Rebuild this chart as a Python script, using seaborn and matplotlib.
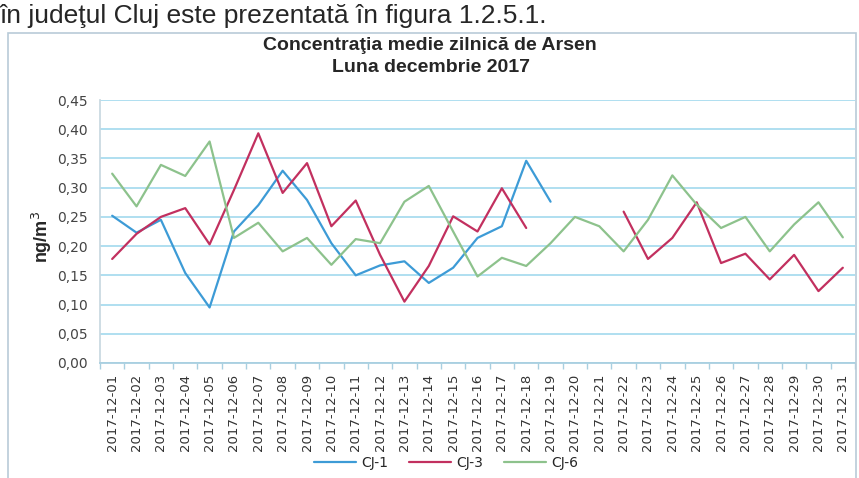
import numpy as np
import pandas as pd
import matplotlib.pyplot as plt
import seaborn as sns
from matplotlib.patches import Rectangle
from matplotlib.ticker import FuncFormatter

nan = np.nan

days = [f"2017-12-{d:02d}" for d in range(1, 32)]
stations = ["CJ-1", "CJ-3", "CJ-6"]

cj1 = [0.252, 0.223, 0.245, 0.154, 0.095, 0.225, 0.270, 0.329, 0.279, 0.205,
       0.150, 0.167, 0.174, 0.137, 0.163, 0.214, 0.234, 0.346, 0.276, nan,
       nan, nan, nan, nan, nan, nan, nan, nan, nan, nan, nan]
cj3 = [0.178, 0.221, 0.250, 0.265, 0.203, 0.296, 0.393, 0.291, 0.342, 0.234,
       0.278, 0.185, 0.105, 0.166, 0.251, 0.225, 0.299, 0.231, nan, nan,
       nan, 0.259, 0.178, 0.214, 0.275, 0.171, 0.187, 0.143, 0.185, 0.123, 0.163]
cj6 = [0.324, 0.268, 0.339, 0.320, 0.379, 0.214, 0.240, 0.191, 0.214, 0.168,
       0.212, 0.205, 0.276, 0.303, 0.225, 0.148, 0.180, 0.166, 0.205, 0.250,
       0.234, 0.191, 0.245, 0.321, 0.271, 0.231, 0.250, 0.191, 0.237, 0.275, 0.215]

colors = {"CJ-1": "#3d9bd6", "CJ-3": "#c2305f", "CJ-6": "#8dc28c"}

# long table, one segment per unbroken run so gaps stay open
rows = []
for name, vals in zip(stations, [cj1, cj3, cj6]):
    seg = 0
    for i, v in enumerate(vals):
        if np.isnan(v):
            seg += 1
            continue
        rows.append({"day": i, "value": v, "station": name, "seg": seg})
df = pd.DataFrame(rows)

sns.set_theme(style="white")
plt.rcParams['font.family'] = ['DejaVu Sans']

fig = plt.figure(figsize=(8.59, 4.78), dpi=100)
ax = fig.add_axes([100 / 859, 1 - 363 / 478, 755 / 859, 263 / 478])

sns.lineplot(data=df, x="day", y="value", hue="station", units="seg",
             estimator=None, palette=colors, linewidth=1.6, ax=ax)

ax.set_xlim(-0.5, 30.5)
ax.set_ylim(0, 0.45)
ax.set_yticks(np.arange(0, 0.451, 0.05))
ax.yaxis.set_major_formatter(FuncFormatter(lambda v, p: f"{v:.2f}".replace(".", ",")))
ax.grid(axis="y", color="#a9dcef", linewidth=1.3)
ax.set_axisbelow(True)

ax.set_xticks(range(len(days)))
ax.set_xticklabels(days, rotation=90, fontsize=9.5, color="#333333")
ax.set_xticks(np.arange(-0.5, 31, 1), minor=True)
ax.tick_params(axis="x", which="major", length=0, pad=8)
ax.tick_params(axis="x", which="minor", length=4, color="#a9cfe0", bottom=True)
ax.tick_params(axis="y", length=0, pad=9, labelsize=10, labelcolor="#444444")

for side in ["top", "right"]:
    ax.spines[side].set_visible(False)
ax.spines["left"].set_color("#c8d8e0")
ax.spines["bottom"].set_color("#a9cfe0")
ax.spines["bottom"].set_linewidth(1.3)
ax.set_xlabel("")
ax.set_ylabel("")

fig.text(42 / 859, 1 - 237 / 478, "ng/m$^3$", rotation=90, ha="center", va="center",
         fontsize=13, fontweight="bold", family=["Liberation Sans"])

fig.text(430 / 859, 1 - 45 / 478, "Concentraţia medie zilnică de Arsen", ha="center", va="center",
         fontsize=14, fontweight="bold", family=["Liberation Sans"])
fig.text(431 / 859, 1 - 68 / 478, "Luna decembrie 2017", ha="center", va="center",
         fontsize=14, fontweight="bold", family=["Liberation Sans"])

# page text above the chart
fig.text(0, 1 - 23 / 478, "în judeţul Cluj este prezentată în figura 1.2.5.1.",
         ha="left", va="baseline", fontsize=19, family=["Liberation Sans"])

fig.patches.append(Rectangle((8 / 859, -0.05), 848 / 859, 1 - 33 / 478 + 0.05,
                             transform=fig.transFigure, fill=False,
                             edgecolor="#b9cbd8", linewidth=1.2))

handles, labels = ax.get_legend_handles_labels()
ax.get_legend().remove()
fig.legend(handles, labels, loc="center", bbox_to_anchor=(446 / 859, 1 - 463 / 478),
           ncol=3, frameon=False, fontsize=10, handlelength=3, columnspacing=1.5,
           handletextpad=0.4)

fig.savefig("out.png", dpi=100)
